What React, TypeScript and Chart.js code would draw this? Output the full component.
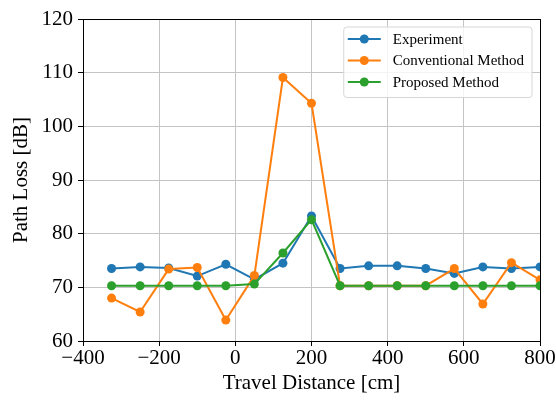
import React, { useEffect, useRef } from "react";
import { Chart, registerables } from "chart.js";

Chart.register(...registerables);

const travelDistance = [-325, -250, -175, -100, -25, 50, 125, 200, 275, 350, 425, 500, 575, 650, 725, 800];
const experiment = [73.5, 73.8, 73.6, 72.1, 74.3, 71.5, 74.5, 83.3, 73.5, 74.0, 74.0, 73.5, 72.6, 73.8, 73.5, 73.8];
const conventional = [68.0, 65.4, 73.4, 73.7, 63.9, 72.2, 109.1, 104.3, 70.3, 70.3, 70.3, 70.3, 73.5, 66.9, 74.6, 71.4];
const proposed = [70.3, 70.3, 70.3, 70.3, 70.3, 70.6, 76.4, 82.6, 70.3, 70.3, 70.3, 70.3, 70.3, 70.3, 70.3, 70.3];
const seriesNames = ["Experiment", "Conventional Method", "Proposed Method"];
const seriesColors = ["#1f77b4", "#ff7f0e", "#2ca02c"];
const xTicks = [-400, -200, 0, 200, 400, 600, 800];
const yTicks = [60, 70, 80, 90, 100, 110, 120];

const FONT = "'Liberation Serif', 'DejaVu Serif', serif";

const framePlugin = {
  id: "frame",
  afterDraw(chart: any) {
    const { ctx, chartArea } = chart;
    ctx.save();
    ctx.strokeStyle = "#000";
    ctx.lineWidth = 1;
    ctx.strokeRect(
      Math.round(chartArea.left) + 0.5,
      Math.round(chartArea.top) + 0.5,
      Math.round(chartArea.right - chartArea.left),
      Math.round(chartArea.bottom - chartArea.top)
    );
    ctx.restore();
  },
};

const legendPlugin = {
  id: "innerLegend",
  afterDraw(chart: any) {
    const { ctx, chartArea } = chart;
    const ds = chart.data.datasets;
    ctx.save();
    ctx.font = `15px ${FONT}`;
    let maxW = 0;
    ds.forEach((d: any) => {
      maxW = Math.max(maxW, ctx.measureText(d.label).width);
    });
    const lineLen = 33;
    const gap = 12;
    const padX = 4;
    const rowH = 21.5;
    const w = padX + lineLen + gap + maxW + 8;
    const h = rowH * ds.length + 6;
    const right = chartArea.right - 8;
    const top = chartArea.top + 8;
    const left = right - w;
    // box
    const r = 3;
    ctx.beginPath();
    ctx.moveTo(left + r, top);
    ctx.lineTo(left + w - r, top);
    ctx.quadraticCurveTo(left + w, top, left + w, top + r);
    ctx.lineTo(left + w, top + h - r);
    ctx.quadraticCurveTo(left + w, top + h, left + w - r, top + h);
    ctx.lineTo(left + r, top + h);
    ctx.quadraticCurveTo(left, top + h, left, top + h - r);
    ctx.lineTo(left, top + r);
    ctx.quadraticCurveTo(left, top, left + r, top);
    ctx.closePath();
    ctx.fillStyle = "rgba(255,255,255,0.8)";
    ctx.fill();
    ctx.strokeStyle = "#d6d6d6";
    ctx.lineWidth = 1;
    ctx.stroke();
    ds.forEach((d: any, i: number) => {
      const y = top + 12 + i * rowH;
      const x0 = left + padX;
      ctx.strokeStyle = d.borderColor;
      ctx.lineWidth = 2;
      ctx.beginPath();
      ctx.moveTo(x0, y);
      ctx.lineTo(x0 + lineLen, y);
      ctx.stroke();
      ctx.fillStyle = d.backgroundColor;
      ctx.beginPath();
      ctx.arc(x0 + lineLen / 2, y, 4.5, 0, Math.PI * 2);
      ctx.fill();
      ctx.fillStyle = "#000";
      ctx.textAlign = "left";
      ctx.textBaseline = "middle";
      ctx.fillText(d.label, x0 + lineLen + gap, y + 1);
    });
    ctx.restore();
  },
};

const seriesValues = [experiment, conventional, proposed];

export default function App() {
  const ref = useRef<HTMLCanvasElement | null>(null);
  useEffect(() => {
    if (!ref.current) return;
    const datasets = seriesValues.map((vals, i) => ({
      label: seriesNames[i],
      data: travelDistance.map((x, j) => ({ x, y: vals[j] })),
      borderColor: seriesColors[i],
      backgroundColor: seriesColors[i],
      pointBackgroundColor: seriesColors[i],
      pointBorderWidth: 0,
      pointRadius: 4.5,
      borderWidth: 2,
      tension: 0,
      clip: 0,
      order: 2 - i,
    }));
    const chart = new Chart(ref.current, {
      type: "line",
      data: { datasets },
      options: {
        animation: false,
        responsive: false,
        layout: { padding: { top: 19, right: 16, left: 0, bottom: 0 } },
        plugins: { legend: { display: false }, tooltip: { enabled: false } },
        scales: {
          x: {
            type: "linear",
            min: -400,
            max: 800,
            afterBuildTicks: (s: any) => {
              s.ticks = xTicks.map((v) => ({ value: v }));
            },
            afterFit: (s: any) => {
              s.height = 59;
            },
            grid: { color: "#c4c4c4", lineWidth: 1, tickLength: 5, tickColor: "#000", drawTicks: true },
            border: { color: "#000", width: 1 },
            ticks: {
              color: "#000",
              font: { family: FONT, size: 21 },
              padding: 0,
              maxRotation: 0,
              callback: (v: any) => (v < 0 ? "\u2212" + Math.abs(v) : String(v)),
            },
            title: {
              display: true,
              text: "Travel Distance [cm]",
              color: "#000",
              font: { family: FONT, size: 21 },
              padding: { top: 0, bottom: 4 },
            },
          },
          y: {
            type: "linear",
            min: 60,
            max: 120,
            afterBuildTicks: (s: any) => {
              s.ticks = yTicks.map((v) => ({ value: v }));
            },
            afterFit: (s: any) => {
              s.width = 83;
            },
            grid: { color: "#c4c4c4", lineWidth: 1, tickLength: 5, tickColor: "#000", drawTicks: true },
            border: { color: "#000", width: 1 },
            ticks: {
              color: "#000",
              font: { family: FONT, size: 21 },
              padding: 5,
            },
            title: {
              display: true,
              text: "Path Loss [dB]",
              color: "#000",
              font: { family: FONT, size: 21 },
              padding: { top: 9, bottom: 0 },
            },
          },
        },
      },
      plugins: [framePlugin, legendPlugin],
    });
    return () => chart.destroy();
  }, []);
  return (
    <div style={{ position: "absolute", left: 0, top: 0, width: 556, height: 400, background: "#fff" }}>
      <canvas ref={ref} width={556} height={400} />
    </div>
  );
}
